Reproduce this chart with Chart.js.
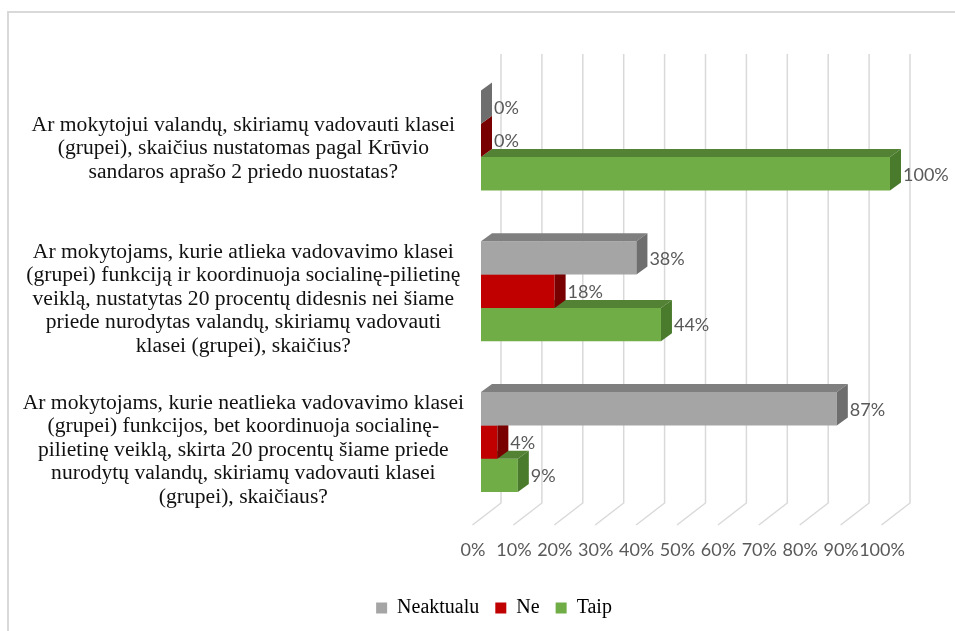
<!DOCTYPE html>
<html><head><meta charset="utf-8">
<script src="https://cdn.jsdelivr.net/npm/chart.js@4.4.1/dist/chart.umd.min.js"></script>
<style>html,body{margin:0;padding:0;background:#fff}#wrap{width:955px;height:631px;position:relative}</style>
</head><body><div id="wrap"><canvas id="c" width="955" height="631"></canvas></div>
<script>
const categories = [
  ['Ar mokytojui valandų, skiriamų vadovauti klasei','(grupei), skaičius nustatomas pagal Krūvio','sandaros aprašo 2 priedo nuostatas?'],
  ['Ar mokytojams, kurie atlieka vadovavimo klasei','(grupei) funkciją ir koordinuoja socialinę-pilietinę','veiklą, nustatytas 20 procentų didesnis nei šiame','priede nurodytas valandų, skiriamų vadovauti','klasei (grupei), skaičius?'],
  ['Ar mokytojams, kurie neatlieka vadovavimo klasei','(grupei) funkcijos, bet koordinuoja socialinę-','pilietinę veiklą, skirta 20 procentų šiame priede','nurodytų valandų, skiriamų vadovauti klasei','(grupei), skaičiaus?']
];
const seriesNames = ['Neaktualu', 'Ne', 'Taip'];
const neaktualu = [0, 38, 87];
const ne = [0, 18, 4];
const taip = [100, 44, 9];
const xTicks = [0, 10, 20, 30, 40, 50, 60, 70, 80, 90, 100];

const frontColors = ['#A5A5A5', '#C00000', '#70AD47'];
const topColors = ['#7F7F7F', '#8E0000', '#548235'];
const sideColors = ['#6E6E6E', '#780000', '#4A7A2C'];
const DX = 11, DY = 8;

Chart.defaults.font.family = "'Liberation Serif', 'Times New Roman', serif";

const bar3d = {
  id: 'bar3d',
  afterLayout(chart) {
    if (chart.legend) chart.legend.left += 98;
  },
  beforeDraw(chart) {
    const ctx = chart.ctx;
    ctx.save();
    ctx.fillStyle = '#fff';
    ctx.fillRect(0, 0, chart.width, chart.height);
    ctx.strokeStyle = '#D9D9D9';
    ctx.lineWidth = 2;
    ctx.strokeRect(8, 12, chart.width + 10, chart.height + 10);
    ctx.restore();
  },
  beforeDatasetsDraw(chart) {
    const ctx = chart.ctx, xs = chart.scales.x, ca = chart.chartArea;
    const wallTop = ca.top - 11, wallBottom = ca.bottom - 14.5, floorFront = ca.bottom + 7.5;
    ctx.save();
    ctx.strokeStyle = '#D9D9D9';
    ctx.lineWidth = 1.5;
    xTicks.forEach(v => {
      const px = xs.getPixelForValue(v);
      ctx.beginPath();
      ctx.moveTo(px + 20, wallTop);
      ctx.lineTo(px + 20, wallBottom);
      ctx.lineTo(px - 8.5, floorFront);
      ctx.stroke();
    });
    ctx.restore();
  },
  afterDatasetDraw(chart, args) {
    const ctx = chart.ctx, meta = args.meta, i = args.index;
    ctx.save();
    meta.data.forEach(el => {
      const x = el.x, base = el.base, top = el.y - el.height / 2, bottom = el.y + el.height / 2;
      ctx.fillStyle = topColors[i];
      ctx.beginPath();
      ctx.moveTo(base, top); ctx.lineTo(x, top); ctx.lineTo(x + DX, top - DY); ctx.lineTo(base + DX, top - DY);
      ctx.closePath(); ctx.fill();
      ctx.fillStyle = sideColors[i];
      ctx.beginPath();
      ctx.moveTo(x, top); ctx.lineTo(x, bottom); ctx.lineTo(x + DX, bottom - DY); ctx.lineTo(x + DX, top - DY);
      ctx.closePath(); ctx.fill();
    });
    ctx.restore();
  },
  afterDatasetsDraw(chart) {
    const ctx = chart.ctx;
    ctx.save();
    ctx.font = '18px Lato';
    ctx.fillStyle = '#595959';
    ctx.textAlign = 'left';
    ctx.textBaseline = 'middle';
    chart.data.datasets.forEach((ds, i) => {
      chart.getDatasetMeta(i).data.forEach((el, j) => {
        ctx.fillText(ds.data[j] + '%', el.x + DX + 2, el.y + 1);
      });
    });
    ctx.restore();
  }
};

new Chart(document.getElementById('c'), {
  type: 'bar',
  data: {
    labels: categories,
    datasets: [
      { label: seriesNames[0], data: neaktualu, backgroundColor: frontColors[0] },
      { label: seriesNames[1], data: ne, backgroundColor: frontColors[1] },
      { label: seriesNames[2], data: taip, backgroundColor: frontColors[2] }
    ]
  },
  options: {
    indexAxis: 'y',
    responsive: false,
    animation: false,
    devicePixelRatio: 1,
    barPercentage: 1,
    categoryPercentage: 0.663,
    layout: { padding: { top: 65, left: 0, right: 65, bottom: 3 } },
    scales: {
      x: {
        min: 0, max: 100,
        grid: { display: false, drawTicks: false },
        border: { display: false },
        afterBuildTicks(scale) { scale.ticks = xTicks.map(v => ({ value: v })); },
        afterFit(scale) { scale.height = 64.5; scale.paddingLeft = 0; scale.paddingRight = 0; },
        ticks: {
          autoSkip: false, maxRotation: 0, padding: 22, labelOffset: -8,
          color: '#595959', font: { family: 'Lato', size: 18 },
          callback: v => v + '%'
        }
      },
      y: {
        grid: { display: false, drawTicks: false },
        border: { display: false },
        afterFit(scale) { scale.width = 481; scale.paddingTop = 0; scale.paddingBottom = 0; },
        ticks: {
          crossAlign: 'center', padding: 17, labelOffset: 8,
          color: '#111', font: { family: "'Liberation Serif', serif", size: 21.6, lineHeight: 1.09 }
        }
      }
    },
    plugins: {
      legend: {
        position: 'bottom',
        labels: {
          boxWidth: 11, boxHeight: 11, padding: 16,
          color: '#000', font: { family: "'Liberation Serif', serif", size: 20 }
        }
      },
      tooltip: { enabled: false }
    }
  },
  plugins: [bar3d]
});
</script></body></html>
